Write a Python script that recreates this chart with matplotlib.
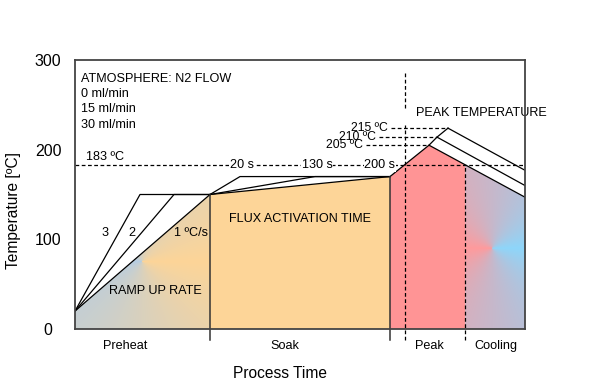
import numpy as np
import matplotlib.pyplot as plt
from matplotlib.patches import Polygon
from matplotlib.colors import to_rgb

plt.rcParams['font.family'] = ['Liberation Sans', 'DejaVu Sans']

# schematic reflow profile (time axis has no units, temps in ºC as drawn)
t_start, T_start = 0, 20
t_soak, T_soak = 135, 150
t_peak, T_soak_end = 315, 170
t_cool = 390
t_end = 450
T_liquidus = 183

ramp_labels = ['3', '2', '1 ºC/s']
ramp_tops = [65, 99, 135]

soak_labels = ['20 s', '130 s', '200 s']
soak_ends = [165, 240, 315]

peak_labels = ['205 ºC', '210 ºC', '215 ºC']
peak_t = [354, 362, 373]
peak_T = [205, 214, 224]
end_T = [147, 160, 177]

atmosphere = ['ATMOSPHERE: N2 FLOW', '0 ml/min', '15 ml/min', '30 ml/min']
zones = ['Preheat', 'Soak', 'Peak', 'Cooling']
zone_x = [50, 210, 354, 421]

c_orange = '#FDD598'
c_red = '#FF9495'
c_blue_pre = '#B6CDE2'
c_blue_cool = '#8ED6FA'
c_red_cool = '#FF9A9C'
dark = '#333333'
dash = (0, (3, 2))
fs = 9.1

fig = plt.figure(figsize=(6, 3.9), dpi=100)
ax = fig.add_axes([75 / 600, 1 - 329 / 390, 450 / 600, 269 / 390])
ax.set_xlim(0, t_end)
ax.set_ylim(0, 300)
px_per_T = 269 / 300  # keeps the gradient angles in screen space


def conic_fill(verts, center, c0, c1):
    # colour goes from c0 (to the right of centre) to c1 (to the left)
    xs = np.linspace(0, t_end, 451)
    ys = np.linspace(0, 300, 301)
    X, Y = np.meshgrid(xs, ys)
    ang = np.arctan2((Y - center[1]) * px_per_T, X - center[0])
    t = (np.abs(ang) / np.pi)[..., None]
    img = np.array(to_rgb(c0)) * (1 - t) + np.array(to_rgb(c1)) * t
    patch = Polygon(verts, closed=True, facecolor='none', edgecolor='none')
    ax.add_patch(patch)
    im = ax.imshow(img, origin='lower', extent=(0, t_end, 0, 300),
                   aspect='auto', zorder=1)
    im.set_clip_path(patch)


# zones
conic_fill([(t_start, 0), (t_start, T_start), (t_soak, T_soak), (t_soak, 0)],
           (67, 75), c_orange, c_blue_pre)
ax.add_patch(Polygon([(t_soak, 0), (t_soak, T_soak), (t_peak, T_soak_end), (t_peak, 0)],
                     facecolor=c_orange, edgecolor='none', zorder=1))
T_at_cool = peak_T[0] - (t_cool - peak_t[0]) * (peak_T[0] - end_T[0]) / (t_end - peak_t[0])
ax.add_patch(Polygon([(t_peak, 0), (t_peak, T_soak_end), (peak_t[0], peak_T[0]),
                      (t_cool, T_at_cool), (t_cool, 0)],
                     facecolor=c_red, edgecolor='none', zorder=1))
conic_fill([(t_cool, 0), (t_cool, T_at_cool), (t_end, end_T[0]), (t_end, 0)],
           (418, 90), c_blue_cool, c_red_cool)

# ramp up lines
for top in ramp_tops:
    ax.plot([t_start, top, t_soak], [T_start, T_soak, T_soak], color='black', lw=0.9, zorder=3)

# soak lines
for end in soak_ends:
    ax.plot([t_soak, end, t_peak], [T_soak, T_soak_end, T_soak_end], color='black', lw=0.9, zorder=3)

# peak lines
ax.plot([t_peak] + peak_t, [T_soak_end] + peak_T, color='black', lw=0.9, zorder=3)
for pt, pT, eT in zip(peak_t, peak_T, end_T):
    ax.plot([pt, t_end], [pT, eT], color='black', lw=0.9, zorder=3)

# zone boundaries
ax.plot([t_soak, t_soak], [-12, T_soak], color=dark, lw=1.1, clip_on=False, zorder=3)
ax.plot([t_peak, t_peak], [-12, T_soak_end], color=dark, lw=1.1, clip_on=False, zorder=3)
ax.plot([t_cool, t_cool], [-12, T_liquidus], color='black', lw=0.9, ls=dash, clip_on=False, zorder=3)
ax.plot([330, 330], [-12, 228], color='black', lw=0.9, ls=dash, clip_on=False, zorder=3)
ax.plot([330, 330], [247, 285], color='black', lw=0.9, ls=dash, zorder=3)

# liquidus line
ax.plot([0, t_end], [T_liquidus, T_liquidus], color='black', lw=0.9, ls=dash, zorder=4)
ax.text(11, 192, '183 ºC', fontsize=fs, va='center', ha='left')
for lab, x in zip(soak_labels, [167, 242, 305]):
    ax.text(x, T_liquidus, lab, fontsize=fs, ha='center', va='center', zorder=5,
            bbox=dict(facecolor='white', edgecolor='none', pad=0.5))

# peak temperature labels
for lab, pt, pT, xl in zip(peak_labels, peak_t, peak_T, [288, 301, 313]):
    ax.text(xl, pT, lab, fontsize=8.8, ha='right', va='center')
    ax.plot([xl + 3, pt], [pT, pT], color='black', lw=0.9, ls=dash, zorder=3)
ax.text(341, 241, 'PEAK TEMPERATURE', fontsize=fs, ha='left', va='center', clip_on=False)

# other annotations
for i, line in enumerate(atmosphere):
    ax.text(6, 279 - i * 17, line, fontsize=fs, ha='left', va='center')
for lab, x in zip(ramp_labels, [30, 57, 116]):
    ax.text(x, 107, lab, fontsize=fs, ha='center', va='center', zorder=5)
ax.text(80, 42, 'RAMP UP RATE', fontsize=fs, ha='center', va='center', zorder=5)
ax.text(225, 123, 'FLUX ACTIVATION TIME', fontsize=fs, ha='center', va='center', zorder=5)
for lab, x in zip(zones, zone_x):
    ax.text(x, -19, lab, fontsize=fs, ha='center', va='center', clip_on=False)

# axes
for s in ax.spines.values():
    s.set_color('#444444')
    s.set_linewidth(1.3)
    s.set_zorder(6)
ax.set_xticks([])
ax.set_yticks([0, 100, 200, 300])
ax.tick_params(axis='y', length=0, pad=19.4, labelsize=11.5)
for lab in ax.get_yticklabels():
    lab.set_ha('center')
ax.set_xlabel('Process Time', fontsize=11.2)
ax.xaxis.label.set_va('center')
ax.xaxis.set_label_coords(0.456, -0.164)
ax.set_ylabel('Temperature [ºC]', fontsize=11.2)
ax.yaxis.label.set_va('center')
ax.yaxis.set_label_coords(-0.136, 0.44)

fig.savefig('out.png', dpi=100)
